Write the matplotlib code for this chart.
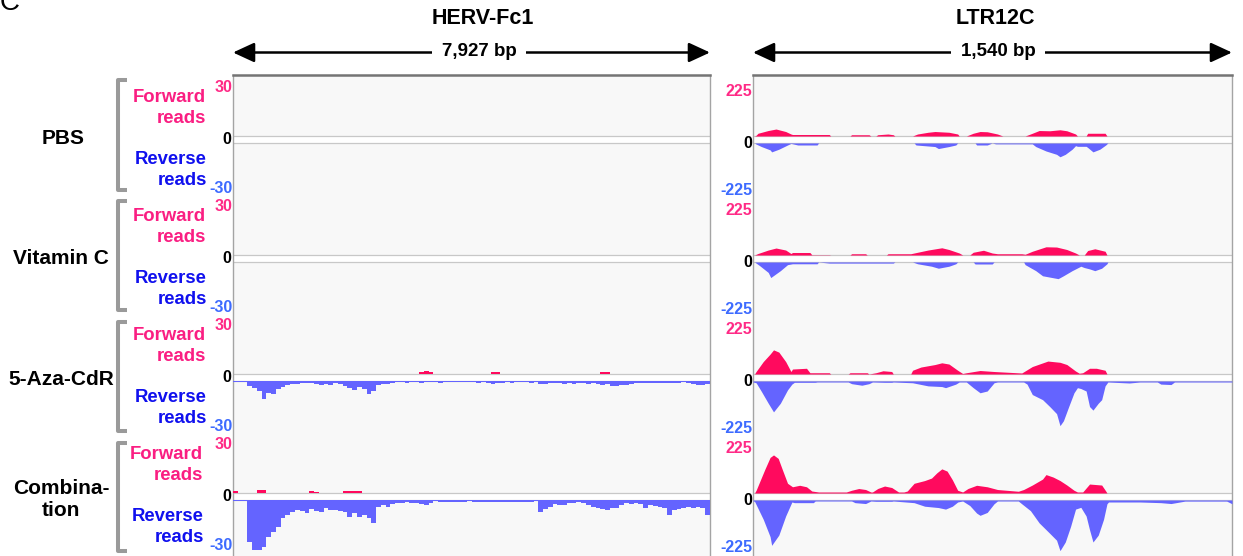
import numpy as np
import matplotlib.pyplot as plt
from matplotlib.lines import Line2D

plt.rcParams['font.family'] = ['Liberation Sans', 'DejaVu Sans']

W, H = 1243, 556

# ---------------- data ----------------
elements = ['HERV-Fc1', 'LTR12C']
element_len = [7927, 1540]
element_len_labels = ['7,927 bp', '1,540 bp']
data_range = [30, 225]
conditions = ['PBS', 'Vitamin C', '5-Aza-CdR', 'Combina-\ntion']

# HERV-Fc1: read depth in 100 equal bins along the element
herv_pbs_fwd = [0] * 100
herv_pbs_rev = [0] * 100
herv_vitc_fwd = [0] * 100
herv_vitc_rev = [0] * 100
herv_aza_fwd = [0] * 39 + [1, 1.5, 1] + [0] * 12 + [1, 1] + [0] * 21 + [1, 1] + [0] * 21
herv_aza_rev = [0.6, 0.6, 0.6,
                3, 4.5, 6, 11, 7, 8, 5,
                3.5, 2.5, 2, 2, 1.5, 1, 1.2, 2, 2.5, 2,
                2.5, 1.5, 2, 3, 4, 5.5, 3.5, 5, 8, 6,
                2.5, 2, 2, 1, 0.8,
                0.8, 1.2, 0.8, 0.8, 1, 0.8, 0.8, 0.8, 1, 0.8, 0.8, 0.8, 0.8, 0.8, 0.8, 0.8, 1, 0.8,
                1.5, 2, 1.5, 1.2,
                0.8, 1, 0.8, 0.8, 0.8, 1, 0.8,
                1.8, 2, 1.5, 1.2, 1.5, 2, 1.5, 2, 1.5, 1.2, 1.8, 1.5, 2,
                2.5, 2, 3, 3.2, 2.5, 2.2, 1.8,
                1.2, 1.5, 1.2, 1, 1, 1, 1, 1, 1.2, 1, 0.9, 1,
                2, 2.5, 2.5, 2]
herv_combo_fwd = [1] + [0] * 4 + [1.8, 1.8] + [0] * 9 + [1.2, 0.8] + [0] * 5 + [1, 1, 1, 1] + [0] * 73
herv_combo_rev = [0.6, 0.6, 0.6,
                  25, 30, 30, 28, 22, 19, 16,
                  11, 9, 7, 6, 6.5, 8, 5.5, 6.5, 7.5, 5,
                  6, 6, 6.5, 7, 10, 8, 10, 9, 11, 14,
                  4, 3, 4, 2.5, 2, 2, 1.5, 2, 2, 2.5, 3, 2,
                  0.8, 1.2, 1.2, 1, 1, 1, 1.2, 0.8, 1, 1.2, 1, 1, 1.5, 1.5, 1, 1.5, 1, 1, 1.2, 1, 1.5, 0.8,
                  7, 5.5, 4, 2.5, 3, 3, 2, 2, 1.5, 2,
                  3, 4.5, 5, 5.5, 6, 5, 5, 3, 2, 2.5, 2, 2.5,
                  5, 3, 3.5, 4, 5, 9, 6, 5.5, 5, 4.5, 5, 4.5, 5, 9]

# LTR12C: read depth at positions (bp)
ltr_pbs_fwd_pos = [5, 10, 16, 49, 74, 105, 122, 127, 245, 250, 312, 317, 373, 379, 395, 401, 434, 451, 456, 513,
                   529, 563, 585, 630, 658, 663, 686, 708, 730, 753, 786, 803, 875, 898, 920, 954, 987, 1009, 1037,
                   1043, 1071, 1076, 1093, 1132, 1138]
ltr_pbs_fwd_val = [0, 3, 11, 22, 28, 18, 8, 6, 6, 0, 0, 5, 5, 0, 0, 5, 8, 5, 0, 0,
                   8, 15, 18, 15, 8, 0, 0, 11, 18, 17, 8, 0, 0, 11, 22, 21, 25, 21, 8,
                   0, 0, 11, 11, 11, 0]
ltr_pbs_rev_pos = [5, 10, 27, 55, 60, 83, 111, 122, 144, 206, 211, 518, 524, 585, 596, 630, 652, 658, 714, 719,
                   753, 769, 780, 898, 909, 942, 976, 987, 1004, 1026, 1037, 1043, 1071, 1076, 1093, 1115, 1134, 1141]
ltr_pbs_rev_val = [0, 5, 16, 31, 40, 28, 9, 2, 9, 9, 0, 0, 9, 16, 25, 16, 9, 0, 0, 9,
                   9, 0, 4, 4, 16, 36, 51, 62, 51, 28, 12, 15, 15, 20, 40, 28, 9, 0]
ltr_vitc_fwd_pos = [5, 16, 49, 74, 105, 122, 127, 183, 189, 245, 250, 312, 317, 362, 367, 429, 434, 507, 518, 563,
                    607, 630, 663, 674, 697, 708, 741, 769, 786, 864, 875, 898, 942, 976, 1009, 1037, 1049, 1065,
                    1076, 1099, 1132, 1138]
ltr_vitc_fwd_val = [0, 6, 20, 28, 20, 6, 10, 10, 1, 1, 0, 0, 5, 5, 0, 0, 5, 5, 8, 20,
                    29, 22, 8, 0, 0, 11, 19, 8, 5, 5, 3, 15, 33, 32, 22, 8, 0, 0,
                    18, 25, 15, 0]
ltr_vitc_rev_pos = [5, 21, 49, 57, 88, 111, 127, 206, 211, 245, 451, 456, 513, 529, 574, 596, 630, 652, 658, 708,
                    714, 769, 775, 870, 875, 909, 931, 981, 998, 1026, 1054, 1065, 1082, 1099, 1121, 1138, 1141]
ltr_vitc_rev_val = [0, 16, 47, 70, 39, 12, 8, 8, 0, 5, 5, 0, 0, 8, 19, 28, 19, 8, 0, 0,
                    9, 9, 0, 0, 12, 39, 62, 75, 62, 39, 19, 25, 31, 39, 28, 8, 0]
ltr_aza_fwd_pos = [5, 10, 33, 55, 66, 83, 105, 122, 127, 172, 183, 245, 250, 306, 312, 367, 373, 395, 418, 446,
                   451, 507, 513, 540, 585, 607, 630, 658, 674, 686, 730, 775, 864, 898, 948, 987, 1009, 1037,
                   1049, 1060, 1082, 1104, 1132, 1138]
ltr_aza_fwd_val = [0, 10, 50, 80, 97, 88, 50, 10, 20, 23, 5, 5, 0, 0, 5, 5, 0, 5, 13, 10,
                   0, 0, 15, 28, 38, 45, 40, 15, 2, 5, 14, 10, 4, 30, 52, 47, 38, 12,
                   3, 5, 23, 23, 15, 0]
ltr_aza_rev_pos = [0, 10, 27, 49, 66, 88, 111, 125, 133, 200, 206, 306, 317, 350, 373, 384, 423, 446, 451, 513,
                   563, 607, 619, 652, 663, 686, 708, 730, 753, 775, 786, 870, 881, 898, 931, 954, 976, 987, 998,
                   1015, 1032, 1043, 1054, 1071, 1082, 1093, 1110, 1121, 1132, 1141, 1210, 1244, 1300, 1311, 1344,
                   1355, 1540]
ltr_aza_rev_val = [4.5, 8, 47, 100, 139, 100, 40, 14, 6, 6, 4.5, 4.5, 12, 19, 12, 4.5, 6, 6, 4.5, 8,
                   22, 25, 30, 14, 4.5, 4.5, 30, 53, 45, 8, 4.5, 4.5, 14, 61, 84, 115, 147, 201, 179,
                   115, 53, 30, 34, 45, 115, 131, 100, 84, 22, 4.5, 9, 4.5, 4.5, 14, 16,
                   4.5, 4.5]
ltr_combo_fwd_pos = [5, 10, 38, 55, 66, 81, 94, 111, 127, 150, 172, 189, 211, 300, 317, 340, 362, 379, 384, 401,
                     423, 446, 468, 485, 496, 518, 552, 574, 591, 607, 624, 641, 658, 674, 691, 719, 753, 786,
                     853, 870, 898, 931, 942, 965, 987, 1009, 1032, 1043, 1060, 1082, 1121, 1134, 1138]
ltr_combo_fwd_val = [0, 11, 95, 143, 153, 139, 95, 39, 25, 31, 25, 8, 4, 4, 11, 18, 14, 4, 4, 18,
                     28, 22, 4, 4, 8, 39, 50, 60, 81, 97, 88, 53, 11, 4, 18, 31, 25, 14,
                     7, 14, 32, 56, 74, 64, 50, 32, 11, 4, 4, 36, 32, 8, 0]
ltr_combo_rev_pos = [0, 5, 33, 55, 60, 83, 105, 125, 133, 194, 200, 317, 328, 362, 379, 395, 446, 451, 518, 552,
                     596, 619, 641, 658, 674, 697, 719, 730, 753, 775, 786, 853, 864, 892, 920, 954, 976, 987,
                     1004, 1021, 1037, 1054, 1071, 1082, 1093, 1110, 1127, 1138, 1143, 1244, 1311, 1344, 1389,
                     1523, 1540]
ltr_combo_rev_val = [4.5, 6, 87, 165, 204, 158, 72, 9, 12, 12, 4.5, 4.5, 12, 16, 4.5, 6, 6, 4.5, 12, 28,
                     34, 41, 28, 9, 4.5, 25, 59, 69, 56, 17, 4.5, 4.5, 17, 48, 103, 150, 181, 228,
                     189, 119, 41, 33, 72, 134, 189, 158, 87, 17, 9, 9, 12, 16, 5,
                     5, 17]

herv_fwd = [herv_pbs_fwd, herv_vitc_fwd, herv_aza_fwd, herv_combo_fwd]
herv_rev = [herv_pbs_rev, herv_vitc_rev, herv_aza_rev, herv_combo_rev]
ltr_fwd = [(ltr_pbs_fwd_pos, ltr_pbs_fwd_val), (ltr_vitc_fwd_pos, ltr_vitc_fwd_val),
           (ltr_aza_fwd_pos, ltr_aza_fwd_val), (ltr_combo_fwd_pos, ltr_combo_fwd_val)]
ltr_rev = [(ltr_pbs_rev_pos, ltr_pbs_rev_val), (ltr_vitc_rev_pos, ltr_vitc_rev_val),
           (ltr_aza_rev_pos, ltr_aza_rev_val), (ltr_combo_rev_pos, ltr_combo_rev_val)]

# ---------------- figure ----------------
fwd_col = '#ff0a5e'
rev_col = '#6464ff'
fwd_txt = '#fa1e82'
rev_txt = '#1010ee'
max_col = '#ff2a86'
min_col = '#3d6bff'

fig = plt.figure(figsize=(W / 100, H / 100), dpi=100)
over = fig.add_axes([0, 0, 1, 1])
over.set_xlim(0, W)
over.set_ylim(H, 0)
over.axis('off')


def px_axes(x0, y0, x1, y1):
    return fig.add_axes([x0 / W, 1 - y1 / H, (x1 - x0) / W, (y1 - y0) / H])


panel_x = [(233, 710), (753, 1232)]
title_x = [483, 995]
len_x = [479, 998]

# panel letter, cut off at the top edge as in the original figure
over.text(0, 10, 'C', fontsize=20, ha='left', va='baseline')

for p in range(2):
    x0, x1 = panel_x[p]
    L = element_len[p]
    R = data_range[p]

    over.text(title_x[p], 18, elements[p], fontsize=15.5, fontweight='bold', ha='center', va='center')
    over.annotate('', xy=(x0, 52.5), xytext=(x1, 52.5),
                  arrowprops=dict(arrowstyle='<|-|>,head_length=0.65,head_width=0.3',
                                  mutation_scale=20, lw=1.8, color='black', shrinkA=0, shrinkB=0))
    over.text(len_x[p], 52, element_len_labels[p], fontsize=13.5, fontweight='bold', ha='center', va='center',
              bbox=dict(facecolor='white', edgecolor='none', pad=7))

    bg = px_axes(x0, 75, x1, H)
    bg.set_facecolor('#f8f8f8')
    bg.set_xlim(x0, x1)
    bg.set_ylim(H, 75)
    bg.set_xticks([])
    bg.set_yticks([])
    for side in ['left', 'right']:
        bg.spines[side].set_color('#a4a4a4')
        bg.spines[side].set_linewidth(1.0)
    bg.spines['top'].set_color('#747474')
    bg.spines['top'].set_linewidth(1.8)
    bg.spines['bottom'].set_visible(False)

    for i in range(4):
        zf = 136 + 119 * i
        zr = zf + 7
        bg.axhspan(zf, zr, color='white', lw=0)
        bg.axhline(zf, color='#c8c8c8', lw=0.9)
        bg.axhline(zr, color='#c8c8c8', lw=0.9)

        fa = px_axes(x0, zf - 56, x1, zf)
        ra = px_axes(x0, zr, x1, zr + 50)
        if p == 0:
            edges = np.linspace(0, L, len(herv_fwd[i]) + 1)
            fv = np.append(herv_fwd[i], herv_fwd[i][-1])
            rv = np.append(herv_rev[i], herv_rev[i][-1])
            fa.fill_between(edges, fv, step='post', color=fwd_col, lw=0)
            ra.fill_between(edges, -rv, step='post', color=rev_col, lw=0)
        else:
            fa.fill_between(ltr_fwd[i][0], ltr_fwd[i][1], color=fwd_col, lw=0)
            ra.fill_between(ltr_rev[i][0], -np.array(ltr_rev[i][1]), color=rev_col, lw=0)
        for ax in (fa, ra):
            ax.set_xlim(0, L)
            ax.axis('off')
        fa.set_ylim(0, R)
        ra.set_ylim(-R, 0)

        # data range labels
        if p == 0:
            over.text(232, 92 + 119 * i, str(R), color=max_col, fontsize=11.5, fontweight='bold',
                      ha='right', va='baseline')
            over.text(231, 144 + 119 * i, '0', color='black', fontsize=11.5, fontweight='bold',
                      ha='right', va='baseline')
            over.text(233, 193 + 119 * i, '-' + str(R), color=min_col, fontsize=11.5, fontweight='bold',
                      ha='right', va='baseline')
        else:
            over.text(752, 96 + 119 * i, str(R), color=max_col, fontsize=11.5, fontweight='bold',
                      ha='right', va='baseline')
            over.text(752, 148 + 119 * i, '0', color='black', fontsize=11.5, fontweight='bold',
                      ha='right', va='baseline')
            over.text(753, 195 + 119 * i, '-' + str(R), color=min_col, fontsize=11.5, fontweight='bold',
                      ha='right', va='baseline')

# left-hand labels and brackets
for i in range(4):
    top = 80 + 121 * i
    bot = 190 + 120.3 * i
    over.add_line(Line2D([127, 118, 118, 127], [top, top, bot, bot], lw=2.9, color='#9a9a9a',
                         solid_joinstyle='round', solid_capstyle='butt'))
    cx = 63 if i == 0 else 61
    over.text(cx, (top + bot) / 2 + 3, conditions[i], fontsize=15, fontweight='bold',
              ha='center', va='center', multialignment='center', linespacing=1.2)
    rx = 203 if i == 3 else 206
    over.text(rx, 108 + 119 * i, 'Forward\nreads', color=fwd_txt, fontsize=13.3, fontweight='bold',
              ha='right', va='center', multialignment='right', linespacing=1.3)
    over.text(rx + 1, 170 + 119 * i, 'Reverse\nreads', color=rev_txt, fontsize=13.3, fontweight='bold',
              ha='right', va='center', multialignment='right', linespacing=1.3)

fig.savefig('out.png', dpi=100)
